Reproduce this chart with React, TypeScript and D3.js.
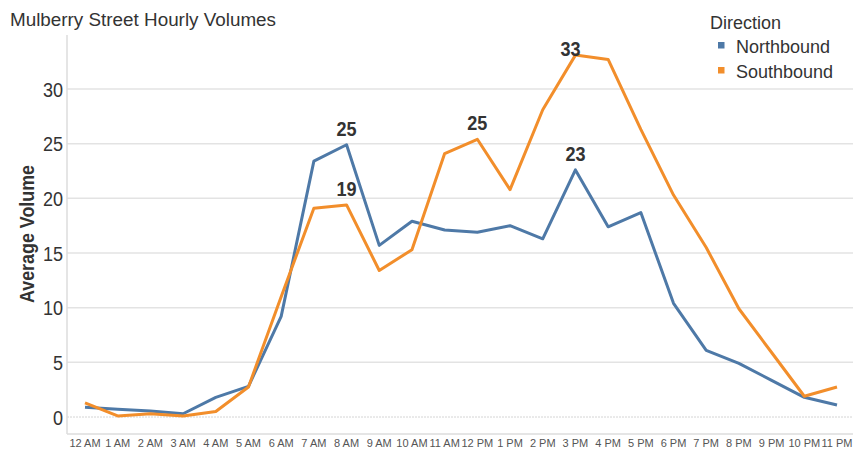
// Mulberry Street hourly volumes — two-direction line chart drawn with D3 scales.
import React from 'react';
import * as d3 from 'd3';

const hours = [
  '12 AM', '1 AM', '2 AM', '3 AM', '4 AM', '5 AM', '6 AM', '7 AM', '8 AM', '9 AM', '10 AM', '11 AM',
  '12 PM', '1 PM', '2 PM', '3 PM', '4 PM', '5 PM', '6 PM', '7 PM', '8 PM', '9 PM', '10 PM', '11 PM',
];

const northbound = [
  0.9, 0.7, 0.55, 0.3, 1.8, 2.8, 9.2, 23.4, 24.9, 15.7, 17.9, 17.1,
  16.9, 17.5, 16.3, 22.6, 17.4, 18.7, 10.4, 6.1, 4.9, 3.35, 1.8, 1.1,
];

const southbound = [
  1.3, 0.1, 0.3, 0.1, 0.5, 2.75, 11.0, 19.1, 19.4, 13.4, 15.3, 24.1,
  25.4, 20.8, 28.1, 33.1, 32.7, 26.3, 20.3, 15.5, 9.9, 5.9, 1.9, 2.75,
];

const yTicks = [0, 5, 10, 15, 20, 25, 30];

// Annotated peaks: series + hour index.
const peakLabels: { series: 'N' | 'S'; idx: number }[] = [
  { series: 'N', idx: 8 },
  { series: 'S', idx: 8 },
  { series: 'S', idx: 12 },
  { series: 'S', idx: 15 },
  { series: 'N', idx: 15 },
];

const BLUE = '#4e79a7';
const ORANGE = '#f28e2b';
const FONT = '"Liberation Sans", Arial, sans-serif';
// the original uses a condensed face; squeeze glyphs horizontally to match
const SQUEEZE = 0.86;

export default function App() {
  const width = 853;
  const height = 456;
  const plot = { left: 67, right: 853, top: 35, bottom: 434 };

  const x = d3.scalePoint<string>().domain(hours).range([85, 837]);
  const y = d3.scaleLinear().domain([0, 30]).range([417, 89]);

  const line = d3.line<number>()
    .x((_, i) => x(hours[i]) ?? 0)
    .y((d) => y(d));

  const series = [
    { name: 'Northbound', values: northbound, color: BLUE },
    { name: 'Southbound', values: southbound, color: ORANGE },
  ];

  return (
    <svg
      width={width}
      height={height}
      style={{ position: 'absolute', left: 0, top: 0, background: '#fff', fontFamily: FONT }}
    >
      {/* gridlines */}
      {yTicks.map((t) => (
        <line
          key={t}
          x1={plot.left}
          x2={plot.right}
          y1={y(t)}
          y2={y(t)}
          stroke={t === 0 ? '#d4d4d4' : '#e3e3e3'}
          strokeWidth={t === 0 ? 1 : 1.5}
          strokeDasharray={t === 0 ? '2,1' : undefined}
        />
      ))}
      {/* axes */}
      <line x1={plot.left} x2={plot.left} y1={plot.top} y2={plot.bottom} stroke="#dcdcdc" strokeWidth={1.5} />
      <line x1={plot.left} x2={plot.right} y1={plot.bottom} y2={plot.bottom} stroke="#dcdcdc" strokeWidth={1.5} />

      {/* y tick labels */}
      {yTicks.map((t) => (
        <text
          key={t}
          transform={`translate(63,${y(t) + 7.5}) scale(${SQUEEZE},1)`}
          textAnchor="end"
          fontSize={21}
          fill="#333"
        >
          {t}
        </text>
      ))}
      <text
        transform="translate(34,234) rotate(-90)"
        textAnchor="middle"
        fontSize={21}
        fontWeight="bold"
        fill="#333"
        textLength={138}
        lengthAdjust="spacingAndGlyphs"
      >
        Average Volume
      </text>

      {/* x tick labels */}
      {hours.map((h) => (
        <text key={h} x={x(h)} y={447} textAnchor="middle" fontSize={11} fill="#555">
          {h}
        </text>
      ))}

      {/* lines */}
      {series.map((s) => (
        <path
          key={s.name}
          d={line(s.values) ?? ''}
          fill="none"
          stroke={s.color}
          strokeWidth={3}
          strokeLinejoin="round"
        />
      ))}

      {/* peak labels */}
      {peakLabels.map((p, i) => {
        const v = p.series === 'N' ? northbound[p.idx] : southbound[p.idx];
        const ly = Math.max(y(v) - 9, 56);
        const lx = (x(hours[p.idx]) ?? 0) + (ly === 56 ? -5 : 0);
        return (
          <text
            key={i}
            transform={`translate(${lx},${ly}) scale(${SQUEEZE},1)`}
            textAnchor="middle"
            fontSize={21}
            fontWeight="bold"
            fill="#333"
          >
            {Math.round(v)}
          </text>
        );
      })}

      {/* title */}
      <text x={10} y={26} fontSize={18} fill="#333" textLength={266} lengthAdjust="spacingAndGlyphs">
        Mulberry Street Hourly Volumes
      </text>

      {/* legend */}
      <text x={710} y={29} fontSize={18} fill="#333">Direction</text>
      {series.map((s, i) => (
        <g key={s.name} transform={`translate(0,${i * 25})`}>
          <rect x={718} y={42} width={6.5} height={6.5} fill={s.color} />
          <text x={736} y={53} fontSize={18} fill="#333">{s.name}</text>
        </g>
      ))}
    </svg>
  );
}
